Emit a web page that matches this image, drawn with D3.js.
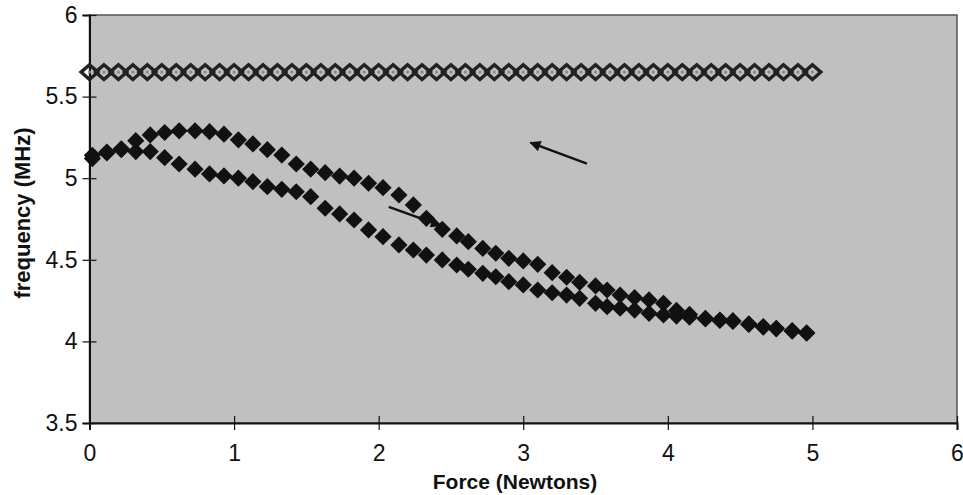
<!DOCTYPE html>
<html><head><meta charset="utf-8">
<script src="https://cdn.jsdelivr.net/npm/d3@7"></script>
<style>
html,body{margin:0;padding:0;background:#fff;}
svg{display:block;font-family:"Liberation Sans",Arial,sans-serif;}
</style></head>
<body><svg id="c" width="963" height="495"></svg>
<script>
// Data
const xTicks = [0, 1, 2, 3, 4, 5, 6];
const yTicks = [3.5, 4, 4.5, 5, 5.5, 6];
const yTickLabels = ["3.5", "4", "4.5", "5", "5.5", "6"];

const refForce = [0.0,0.1,0.2,0.3,0.4,0.5,0.6,0.7,0.8,0.9,1.0,1.1,1.2,1.3,1.4,1.5,1.6,1.7,1.8,1.9,2.0,2.1,2.2,2.3,2.4,2.5,2.6,2.7,2.8,2.9,3.0,3.1,3.2,3.3,3.4,3.5,3.6,3.7,3.8,3.9,4.0,4.1,4.2,4.3,4.4,4.5,4.6,4.7,4.8,4.9,5.0];
const refFreq = [5.65,5.65,5.65,5.65,5.65,5.65,5.65,5.65,5.65,5.65,5.65,5.65,5.65,5.65,5.65,5.65,5.65,5.65,5.65,5.65,5.65,5.65,5.65,5.65,5.65,5.65,5.65,5.65,5.65,5.65,5.65,5.65,5.65,5.65,5.65,5.65,5.65,5.65,5.65,5.65,5.65,5.65,5.65,5.65,5.65,5.65,5.65,5.65,5.65,5.65,5.65];

const loopForce = [0.02,0.12,0.22,0.32,0.42,0.52,0.62,0.73,0.83,0.93,1.03,1.13,1.23,1.33,1.43,1.53,1.63,1.73,1.83,1.93,2.03,2.14,2.24,2.33,2.44,2.54,2.62,2.72,2.81,2.90,3.00,3.10,3.20,3.30,3.39,3.50,3.58,3.67,3.77,3.87,3.97,4.06,4.15,4.26,4.36,4.45,4.56,4.66,4.75,4.86,4.96];
const upperFreq = [5.14,5.16,5.18,5.23,5.265,5.28,5.29,5.29,5.285,5.27,5.235,5.21,5.175,5.142,5.087,5.055,5.034,5.013,5.0,4.969,4.942,4.897,4.836,4.754,4.687,4.646,4.611,4.57,4.54,4.509,4.493,4.472,4.421,4.393,4.362,4.34,4.315,4.284,4.268,4.254,4.233,4.19,4.165,4.142,4.131,4.127,4.107,4.09,4.08,4.066,4.053];
const lowerFreq = [5.12,5.155,5.175,5.163,5.163,5.126,5.087,5.055,5.026,5.014,5.0,4.979,4.948,4.932,4.917,4.887,4.816,4.781,4.744,4.683,4.642,4.591,4.56,4.529,4.499,4.468,4.442,4.417,4.396,4.366,4.346,4.315,4.298,4.284,4.264,4.233,4.213,4.203,4.192,4.172,4.162,4.155,4.148,4.138,4.128,4.122,4.104,4.088,4.077,4.063,4.05];

// annotation arrows [x1,y1,x2,y2] in data units (tail -> head)
const arrow1 = [3.44, 5.09, 3.05, 5.218];
const arrow2 = [2.07, 4.825, 2.43, 4.71];

const svg = d3.select("#c");
const L = 89.5, R = 957, T = 15, B = 423;
const x = d3.scaleLinear().domain([0, 6]).range([L, R]);
const y = d3.scaleLinear().domain([3.5, 6]).range([B, T]);

svg.append("defs").append("marker").attr("id","ah")
  .attr("viewBox","0 0 10 10").attr("refX",9).attr("refY",5)
  .attr("markerWidth",15).attr("markerHeight",11).attr("markerUnits","userSpaceOnUse")
  .attr("orient","auto")
  .append("path").attr("d","M0,0 L10,5 L0,10 Z").attr("fill","#111");

svg.append("rect").attr("x", L).attr("y", T).attr("width", R - L).attr("height", B - T)
  .attr("fill", "#c0c0c0").attr("stroke", "#555").attr("stroke-width", 1.5);

// axes
const yAxis = d3.axisLeft(y).tickValues(yTicks).tickFormat((d,i)=>yTickLabels[i]).tickSize(7).tickPadding(6);
const gy = svg.append("g").attr("transform", `translate(${L},0)`).call(yAxis);
gy.select(".domain").attr("stroke","#111").attr("stroke-width",2);
gy.selectAll(".tick line").attr("x2",7).attr("x1",-7).attr("stroke","#111").attr("stroke-width",1.2);
gy.selectAll(".tick text").attr("x",-12).attr("font-size",23).attr("fill","#111");

const xAxis = d3.axisBottom(x).tickValues(xTicks).tickFormat(d3.format("d")).tickSize(7).tickPadding(6);
const gx = svg.append("g").attr("transform", `translate(0,${B})`).call(xAxis);
gx.select(".domain").attr("stroke","#111").attr("stroke-width",2);
gx.selectAll(".tick line").attr("y1",-7).attr("y2",7).attr("stroke","#111").attr("stroke-width",1.2);
gx.selectAll(".tick text").attr("y",22).attr("font-size",23).attr("fill","#111");

// annotations
[arrow1, arrow2].forEach(a => {
  svg.append("line").attr("x1", x(a[0])).attr("y1", y(a[1])).attr("x2", x(a[2])).attr("y2", y(a[3]))
    .attr("stroke","#111").attr("stroke-width",2.4).attr("marker-end","url(#ah)");
});

// reference row: hollow diamonds
const hd = (rx, ry) => `M0,${-ry}L${rx},0L0,${ry}L${-rx},0Z`;
svg.append("g").selectAll("path").data(refForce).join("path")
  .attr("transform", (d,i)=>`translate(${x(d)},${y(refFreq[i])})`)
  .attr("d", hd(8.4, 7.4)).attr("fill","none").attr("stroke","#222").attr("stroke-width",3.4);
svg.append("g").selectAll("circle").data(refForce).join("circle")
  .attr("cx", d=>x(d)).attr("cy", (d,i)=>y(refFreq[i])).attr("r",1.6).attr("fill","#888");

// hysteresis loop: filled diamonds
const g2 = svg.append("g");
[upperFreq, lowerFreq].forEach(series => {
  g2.selectAll(null).data(loopForce).join("path")
    .attr("transform", (d,i)=>`translate(${x(d)},${y(series[i])})`)
    .attr("d", hd(8.6, 8.6)).attr("fill","#111");
});

// axis titles
svg.append("text").attr("x", 515).attr("y", 489).attr("text-anchor","middle")
  .attr("font-size",21).attr("font-weight","bold").attr("fill","#111").text("Force (Newtons)");
svg.append("text").attr("transform",`translate(30,213) rotate(-90)`).attr("text-anchor","middle")
  .attr("font-size",22).attr("font-weight","bold").attr("fill","#111").text("frequency (MHz)");
</script></body></html>
